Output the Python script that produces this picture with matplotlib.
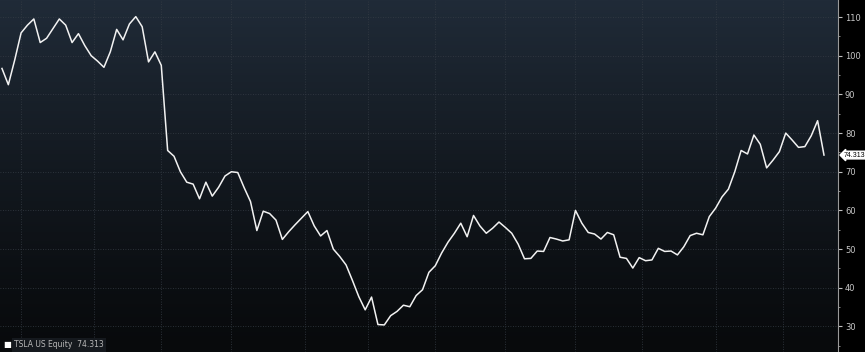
import matplotlib
matplotlib.use("Agg")
import matplotlib.pyplot as plt
import numpy as np
import pandas as pd

tsla_close = [
    96.7, 92.5, 98.9, 105.9, 107.9, 109.5, 103.4, 104.5, 107.0, 109.5,
    107.9, 103.4, 105.7, 102.6, 100.0, 98.6, 97.0, 101.0, 106.8, 104.1,
    108.2, 110.1, 107.5, 98.4, 101.0, 97.5, 75.5, 74.0, 70.0, 67.3,
    66.8, 63.0, 67.3, 63.7, 66.0, 68.9, 70.0, 69.8, 65.9, 62.3,
    54.8, 59.8, 59.2, 57.5, 52.5, 54.5, 56.3, 58.0, 59.7, 56.0,
    53.4, 54.8, 50.0, 48.1, 45.9, 41.9, 37.7, 34.3, 37.6, 30.5,
    30.4, 32.8, 33.9, 35.5, 35.1, 38.0, 39.5, 44.0, 45.7, 49.0,
    51.8, 54.1, 56.7, 53.2, 58.7, 56.0, 54.1, 55.4, 57.0, 55.6,
    54.1, 51.3, 47.5, 47.6, 49.5, 49.4, 53.0, 52.6, 52.1, 52.4,
    60.0, 56.7, 54.3, 53.9, 52.6, 54.3, 53.7, 47.9, 47.6, 45.1,
    47.8, 47.0, 47.2, 50.2, 49.4, 49.5, 48.5, 50.6, 53.5, 54.1,
    53.7, 58.4, 60.6, 63.5, 65.5, 70.0, 75.5, 74.6, 79.5, 77.1,
    71.0, 73.0, 75.2, 80.0, 78.2, 76.3, 76.5, 79.3, 83.2, 74.313,
]
last_price = 74.313
ticker_label = "TSLA US Equity"
y_ticks = [30, 40, 50, 60, 70, 80, 90, 100, 110]

dates = pd.bdate_range("2013-09-23", periods=len(tsla_close), freq="2B")
x = np.arange(len(tsla_close))

# month starts, as positions on the trading-day axis
all_days = pd.bdate_range(dates[0], periods=len(tsla_close) * 2 + 6)
month_pos = [i / 2 for i in range(1, len(all_days))
             if all_days[i].month != all_days[i - 1].month]

fig = plt.figure(figsize=(8.65, 3.52), dpi=100, facecolor="black")
ax = fig.add_axes([0, 0, 838 / 865, 1])
ax.set_facecolor("black")

# dark blue-grey to black background
grad = np.linspace(1, 0, 256).reshape(-1, 1)
top = np.array([0x20, 0x2b, 0x38]) / 255
bot = np.array([0x08, 0x0a, 0x0c]) / 255
img = bot + (top - bot) * grad[..., None] ** 1.2
ax.imshow(img, extent=[0, 1, 0, 1], transform=ax.transAxes,
          aspect="auto", zorder=0)

ax.plot(x, tsla_close, color="#f2f2f2", linewidth=1.1, zorder=3)

ax.set_xlim(-0.31, len(tsla_close) + 1.2)
ax.set_ylim(23.4, 114.4)

ax.set_xticks(month_pos)
ax.tick_params(axis="x", length=0, labelbottom=False)
ax.yaxis.tick_right()
ax.set_yticks(y_ticks)
ax.set_yticks(np.arange(25, 115, 5), minor=True)
ax.tick_params(axis="y", which="major", direction="out", length=3,
               width=0.8, color="#c0c0c0", labelcolor="#c8c8c8",
               labelsize=6, pad=2)
ax.tick_params(axis="y", which="minor", direction="out", length=1.5,
               width=0.6, color="#a0a0a0")

ax.grid(True, which="major", linestyle=(0, (1, 2)), linewidth=0.6,
        color="#353c45", zorder=1)

for side in ["left", "top", "bottom"]:
    ax.spines[side].set_visible(False)
ax.spines["right"].set_color("#9a9a9a")
ax.spines["right"].set_linewidth(0.8)

# last price tag on the axis
ax.text(1.007, last_price, f"{last_price:.3f}",
        transform=ax.get_yaxis_transform(), ha="left", va="center",
        fontsize=5, family="Liberation Sans", color="black", clip_on=False,
        bbox=dict(boxstyle="larrow,pad=0.05", facecolor="white",
                  edgecolor="white"))

# legend box at the bottom left
fig.text(0.004, 0.02, "\u25a0", color="white", fontsize=6,
         ha="left", va="center")
fig.text(0.016, 0.02, f"{ticker_label}  {last_price:.3f}",
         color="#b8b8b8", fontsize=5.5, ha="left", va="center",
         bbox=dict(facecolor="#15191e", edgecolor="none", pad=1.5))

fig.savefig("out.png", dpi=100, facecolor="black")
